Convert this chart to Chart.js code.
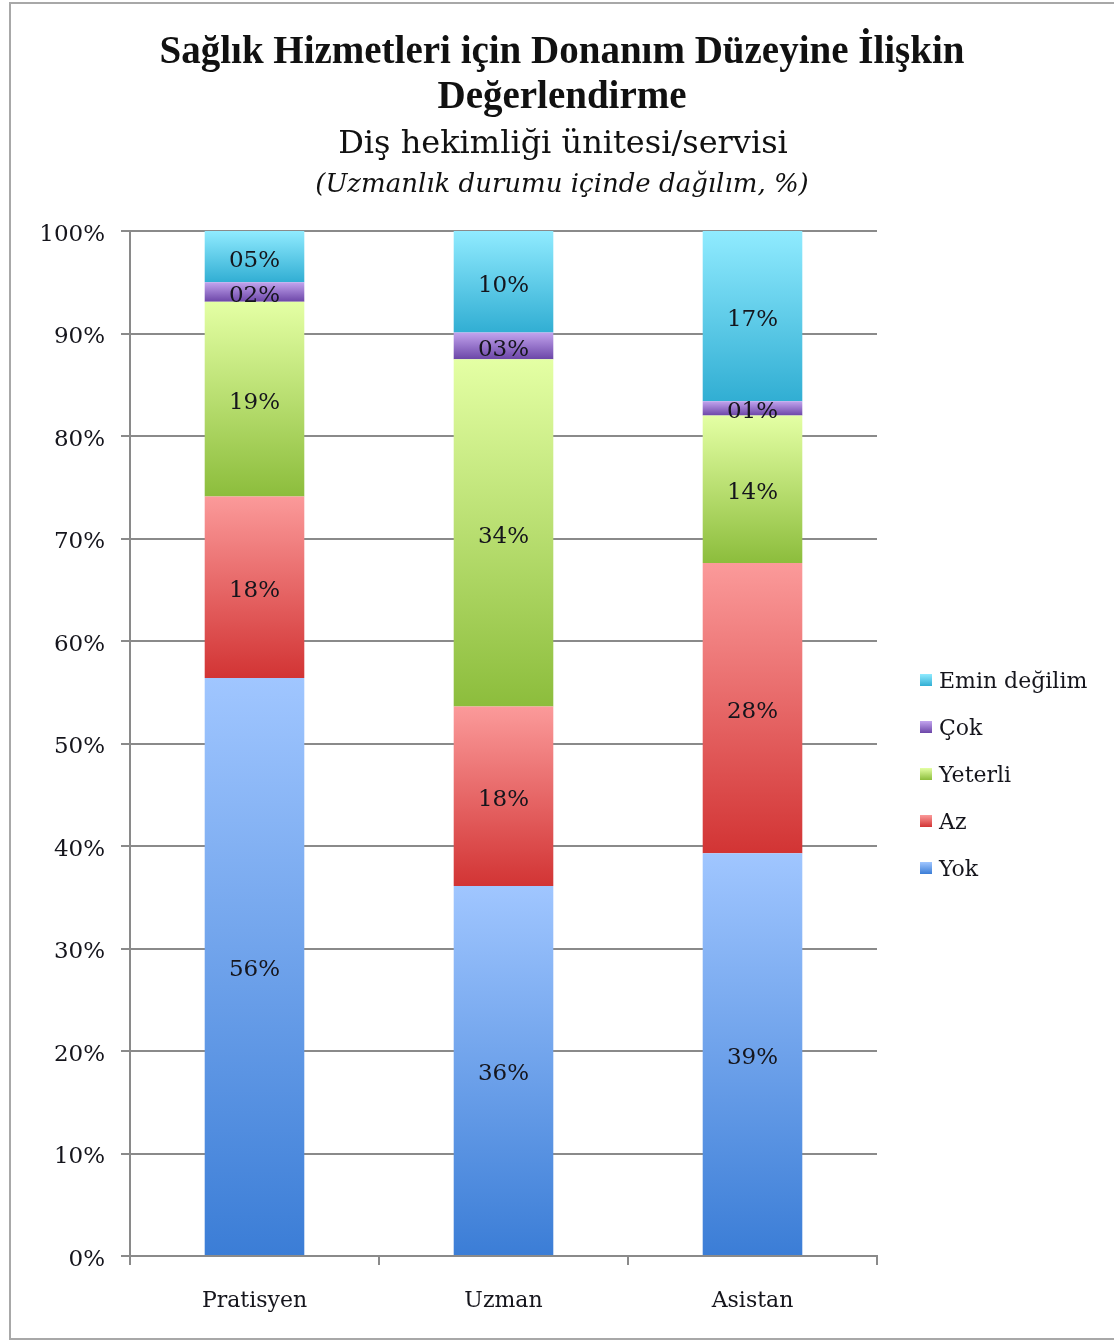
<!DOCTYPE html>
<html>
<head>
<meta charset="utf-8">
<script src="https://cdn.jsdelivr.net/npm/chart.js@4.4.0/dist/chart.umd.min.js"></script>
<style>
  html, body { margin: 0; padding: 0; background: #fff; overflow: hidden; }
  #frame { position: absolute; left: 9px; top: 2px; width: 1200px; height: 1334px; border: 2px solid #a8a8a8; }
  #wrap { position: absolute; left: 0; top: 0; width: 1114px; height: 1340px; }
</style>
</head>
<body>
<div id="frame"></div>
<div id="wrap"><canvas id="chart" width="1114" height="1340"></canvas></div>
<script>
// categories and series (percent within each group)
const categories = ["Pratisyen", "Uzman", "Asistan"];
const seriesNames = ["Yok", "Az", "Yeterli", "Çok", "Emin değilim"];
const yok = [56.4, 36.1, 39.3];
const az = [17.7, 17.5, 28.3];
const yeterli = [19.0, 33.9, 14.4];
const cok = [1.9, 2.6, 1.4];
const eminDegilim = [5.0, 9.9, 16.6];
const yTicks = [0, 10, 20, 30, 40, 50, 60, 70, 80, 90, 100];

const titleLines = ["Sağlık Hizmetleri için Donanım Düzeyine İlişkin", "Değerlendirme"];
const subtitle = "Diş hekimliği ünitesi/servisi";
const subtitle2 = "(Uzmanlık durumu içinde dağılım, %)";

const allSeries = [yok, az, yeterli, cok, eminDegilim];
// top / bottom gradient colours per series
const colors = [
  ["#a0c6ff", "#3b7dd6"],
  ["#fb9a9a", "#d23434"],
  ["#e4ffa4", "#8cbd3c"],
  ["#c2a4ee", "#6c46a8"],
  ["#90ebff", "#31aed3"],
];

const SERIF = "'DejaVu Serif', serif";
const TEXT = "#15151c";

function segmentFill(d) {
  return function (c) {
    const chart = c.chart;
    if (!chart.chartArea || c.type !== "data") return colors[d][1];
    const i = c.dataIndex;
    let base = 0;
    for (let k = 0; k < d; k++) base += allSeries[k][i];
    const y = chart.scales.y;
    const top = y.getPixelForValue(base + allSeries[d][i]);
    const bottom = y.getPixelForValue(base);
    const g = chart.ctx.createLinearGradient(0, top, 0, bottom);
    g.addColorStop(0, colors[d][0]);
    g.addColorStop(1, colors[d][1]);
    return g;
  };
}

// header text
const headerPlugin = {
  id: "header",
  afterDraw(chart) {
    const ctx = chart.ctx;
    ctx.save();
    ctx.fillStyle = "#111";
    ctx.textAlign = "center";
    ctx.textBaseline = "alphabetic";
    ctx.font = "bold 39px 'Liberation Serif', serif";
    ctx.fillText(titleLines[0], 562, 63);
    ctx.fillText(titleLines[1], 562, 108);
    ctx.font = "32px " + SERIF;
    ctx.fillText(subtitle, 563, 153);
    ctx.font = "italic 26px " + SERIF;
    ctx.fillText(subtitle2, 562, 192);
    ctx.restore();
  },
};

// value labels in the middle of each segment
const valueLabels = {
  id: "valueLabels",
  afterDatasetsDraw(chart) {
    const ctx = chart.ctx;
    ctx.save();
    ctx.font = "23px " + SERIF;
    ctx.fillStyle = TEXT;
    ctx.textAlign = "center";
    ctx.textBaseline = "middle";
    chart.data.datasets.forEach((ds, d) => {
      chart.getDatasetMeta(d).data.forEach((bar, i) => {
        const v = Math.round(ds.data[i]);
        const txt = (v < 10 ? "0" : "") + v + "%";
        ctx.fillText(txt, bar.x, (bar.y + bar.base) / 2 + 4);
      });
    });
    ctx.restore();
  },
};

// legend on the right, top item = last series
const sideLegend = {
  id: "sideLegend",
  afterDraw(chart) {
    const ctx = chart.ctx;
    ctx.save();
    ctx.font = "22px " + SERIF;
    ctx.textBaseline = "middle";
    ctx.textAlign = "left";
    const n = chart.data.datasets.length;
    for (let k = 0; k < n; k++) {
      const d = n - 1 - k;
      const cy = 680 + k * 47;
      const g = ctx.createLinearGradient(0, cy - 6, 0, cy + 6);
      g.addColorStop(0, colors[d][0]);
      g.addColorStop(1, colors[d][1]);
      ctx.fillStyle = g;
      ctx.fillRect(920, cy - 6, 12, 12);
      ctx.fillStyle = TEXT;
      ctx.fillText(chart.data.datasets[d].label, 939, cy + 2);
    }
    ctx.restore();
  },
};

const ctx = document.getElementById("chart").getContext("2d");
const chart = new Chart(ctx, {
  type: "bar",
  data: {
    labels: categories,
    datasets: seriesNames.map((name, d) => ({
      label: name,
      data: allSeries[d],
      backgroundColor: segmentFill(d),
      borderWidth: 0,
      categoryPercentage: 1,
      barPercentage: 0.4,
    })),
  },
  options: {
    responsive: false,
    animation: false,
    layout: { padding: { top: 231, left: 10, right: 237, bottom: 0 } },
    plugins: {
      legend: { display: false },
      title: { display: false },
      tooltip: { enabled: false },
    },
    scales: {
      x: {
        stacked: true,
        grid: {
          display: true,
          drawOnChartArea: false,
          color: "#8a8a8a",
          lineWidth: 2,
          tickLength: 9,
          offset: true,
        },
        border: { color: "#8a8a8a", width: 2 },
        ticks: {
          color: TEXT,
          font: { family: SERIF, size: 22 },
          padding: 23,
        },
        afterFit(scale) { scale.height = 84; },
      },
      y: {
        stacked: true,
        min: 0,
        max: 100,
        afterBuildTicks(scale) { scale.ticks = yTicks.map(v => ({ value: v })); },
        grid: { color: "#8a8a8a", lineWidth: 2, tickLength: 9 },
        border: { color: "#8a8a8a", width: 2 },
        ticks: {
          color: TEXT,
          font: { family: SERIF, size: 23 },
          padding: 16,
          labelOffset: 4,
          callback: v => v + "%",
        },
        afterFit(scale) { scale.width = 120; },
      },
    },
  },
  plugins: [headerPlugin, valueLabels, sideLegend],
});
</script>
</body>
</html>
